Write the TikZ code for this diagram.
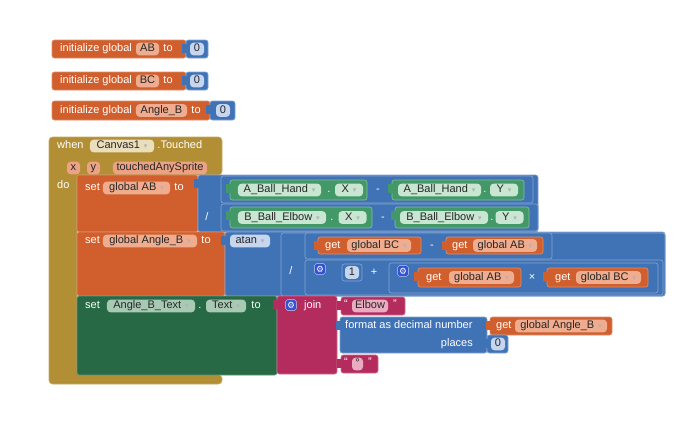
\documentclass[tikz,border=0pt]{standalone}
\usepackage{fontspec}
\setmainfont{Liberation Sans}
\newfontfamily\symfont{DejaVu Sans}
\usetikzlibrary{positioning}

\definecolor{varor}{RGB}{208,95,45}
\definecolor{pillor}{RGB}{240,172,142}
\definecolor{mathbl}{RGB}{64,114,182}
\definecolor{pillbl}{RGB}{198,214,238}
\definecolor{compgr}{RGB}{66,152,103}
\definecolor{pillgr}{RGB}{200,230,210}
\definecolor{setgr}{RGB}{38,105,68}
\definecolor{pilldg}{RGB}{168,202,180}
\definecolor{evol}{RGB}{178,142,52}
\definecolor{pillev}{RGB}{234,222,188}
\definecolor{pillpar}{RGB}{236,162,132}
\definecolor{txtmg}{RGB}{180,44,94}
\definecolor{pillmg}{RGB}{234,172,192}
\definecolor{gearbl}{RGB}{52,82,212}

\newcommand{\blkfont}{\fontsize{9.4}{11}\selectfont}
\newcommand{\dd}{\hspace{0.35em}{\symfont\fontsize{6}{6}\selectfont\textcolor{gray!60}{▾}}}
\newcommand{\vtab}[3]{\fill[#3] (#1-4,#2+4) rectangle (#1+0.6,#2+13);}

\begin{document}
\begin{tikzpicture}[x=0.03cm, y=-0.03cm,
    lbl/.style={text=white, font=\blkfont, inner sep=0pt, text height=6.8pt, text depth=1.8pt},
    pill/.style={rounded corners=3pt, inner sep=0pt, minimum height=0.38cm, text=black!85, font=\blkfont, text height=6.8pt, text depth=1.8pt},
    orpill/.style={pill, fill=pillor},
    blpill/.style={pill, fill=pillbl},
    grpill/.style={pill, fill=pillgr},
    dgpill/.style={pill, fill=pilldg},
    evpill/.style={pill, fill=pillev},
    parpill/.style={pill, fill=pillpar},
    mgpill/.style={pill, fill=pillmg},
    orblk/.style={fill=varor, draw=varor!70!white, line width=0.5pt, rounded corners=2pt},
    blblk/.style={fill=mathbl, draw=mathbl!65!white, line width=0.5pt, rounded corners=2pt},
    grblk/.style={fill=compgr, draw=compgr!65!white, line width=0.5pt, rounded corners=2pt},
    dgblk/.style={fill=setgr, draw=setgr!70!white, line width=0.5pt, rounded corners=2pt},
    mgblk/.style={fill=txtmg, draw=txtmg!70!white, line width=0.5pt, rounded corners=2pt},
    evblk/.style={fill=evol, draw=evol!75!white, line width=0.5pt, rounded corners=3pt},
    gear/.style={fill=gearbl, draw=white!70!gearbl, rounded corners=1.5pt, minimum size=0.32cm, inner sep=0pt, text=white, font=\symfont\fontsize{7.5}{7.5}\selectfont}
]
\fill[white] (0,0) rectangle (690,442);
\useasboundingbox (0,0) rectangle (690,442);

% Global variables
\draw[orblk] (52,40) rectangle (186,58);
\node[lbl, anchor=west] (init1) at (60,49) {initialize global};
\node[orpill, minimum width=0.69cm] (vab) at (147.5,49) {AB};
\node[lbl, right=0.12cm of vab] (to1) {to};
\draw[blblk] (186,40) rectangle (208,58); \vtab{186}{40}{mathbl}
\node[blpill, minimum width=0.42cm] (zero1) at (197,49) {0};

\draw[orblk] (52,72) rectangle (186,90);
\node[lbl, anchor=west] (init2) at (60,81) {initialize global};
\node[orpill, minimum width=0.69cm] (vbc) at (147.5,81) {BC};
\node[lbl, right=0.12cm of vbc] (to2) {to};
\draw[blblk] (186,72) rectangle (208,90); \vtab{186}{72}{mathbl}
\node[blpill, minimum width=0.42cm] (zero2) at (197,81) {0};

\draw[orblk] (52,101) rectangle (210,120);
\node[lbl, anchor=west] (init3) at (60,110.5) {initialize global};
\node[orpill, minimum width=1.53cm] (vang) at (161.5,110.5) {Angle\_B};
\node[lbl, right=0.12cm of vang] (to3) {to};
\draw[blblk] (210,101) rectangle (235,120); \vtab{210}{101}{mathbl}
\node[blpill, minimum width=0.42cm] (zero3) at (223,110.5) {0};

% Event handler
\draw[evblk] (49,137) -- (222,137) -- (222,175) -- (77,175) -- (77,375)
  -- (222,375) -- (222,384) -- (49,384) -- cycle;
\node[lbl, anchor=west] (when) at (57,146) {when};
\node[evpill, minimum width=1.92cm] (canvas) at (122,146) {Canvas1\dd};
\node[lbl, right=0.09cm of canvas] (touched) {.Touched};
\node[parpill, minimum width=0.39cm] (px) at (73.5,168) {x};
\node[parpill, minimum width=0.39cm] (py) at (93.5,168) {y};
\node[parpill, minimum width=2.82cm] (pany) at (160,168) {touchedAnySprite};
\node[lbl, anchor=west] (do) at (57,186) {do};

% set global AB
\draw[orblk] (77,175) rectangle (198,232);
\node[lbl, anchor=west] (set1) at (85,188) {set};
\node[orpill, minimum width=2.01cm] (gab1) at (136.5,188) {global AB\dd};
\node[lbl, right=0.12cm of gab1] (to4) {to};
\draw[blblk] (198,175) rectangle (538,232); \vtab{198}{175}{mathbl}
\node[lbl] (div1) at (207,217.5) {/};
\draw[blblk] (221,176) rectangle (533,203);
\draw[blblk] (221,204) rectangle (538,231);

\draw[grblk] (230,180) rectangle (367,200); \vtab{230}{180}{compgr}
\node[grpill, minimum width=2.49cm] (ah1) at (279.5,190) {A\_Ball\_Hand\dd};
\node[lbl] (dot1) at (329,190) {.};
\node[grpill, minimum width=0.84cm] (ax1) at (349,190) {X\dd};
\node[lbl] (min1) at (378,190) {-};
\draw[grblk] (392,180) rectangle (524,200); \vtab{392}{180}{compgr}
\node[grpill, minimum width=2.49cm] (ah2) at (439.5,190) {A\_Ball\_Hand\dd};
\node[lbl] (dot2) at (485,190) {.};
\node[grpill, minimum width=0.84cm] (ay1) at (504,190) {Y\dd};

\draw[grblk] (230,207) rectangle (372,228); \vtab{230}{207}{compgr}
\node[grpill, minimum width=2.64cm] (be1) at (282,217.5) {B\_Ball\_Elbow\dd};
\node[lbl] (dot3) at (332,217.5) {.};
\node[grpill, minimum width=0.84cm] (bx1) at (352.5,217.5) {X\dd};
\node[lbl] (min2) at (383,217.5) {-};
\draw[grblk] (395,207) rectangle (529,228); \vtab{395}{207}{compgr}
\node[grpill, minimum width=2.64cm] (be2) at (444,217.5) {B\_Ball\_Elbow\dd};
\node[lbl] (dot4) at (492,217.5) {.};
\node[grpill, minimum width=0.84cm] (by1) at (509.5,217.5) {Y\dd};

% set global Angle_B
\draw[orblk] (77,232) rectangle (225,296);
\node[lbl, anchor=west] (set2) at (85,241) {set};
\node[orpill, minimum width=2.82cm] (gang1) at (150,241) {global Angle\_B\dd};
\node[lbl, right=0.12cm of gang1] (to5) {to};
\draw[blblk] (225,232) rectangle (665,296); \vtab{225}{232}{mathbl}
\node[blpill, minimum width=1.2cm] (atan) at (250,241) {atan\dd};
\draw[blblk] (281,233) rectangle (665,296);
\node[lbl] (div2) at (291,272) {/};

\draw[blblk] (305,233) rectangle (552,259);
\draw[orblk] (318,237) rectangle (421,254); \vtab{318}{237}{varor}
\node[lbl, anchor=west] (get1) at (325,245.5) {get};
\node[orpill, minimum width=1.92cm] (gbc1) at (379,245.5) {global BC\dd};
\node[lbl] (min3) at (432,245.5) {-};
\draw[orblk] (446,237) rectangle (543,254); \vtab{446}{237}{varor}
\node[lbl, anchor=west] (get2) at (452,245.5) {get};
\node[orpill, minimum width=1.92cm] (gab2) at (505,245.5) {global AB\dd};

\draw[blblk] (305,260) rectangle (663,295);
\node[gear] (gear1) at (320,269) {⚙};
\draw[blblk] (342,264) rectangle (362,281);
\node[blpill, minimum width=0.42cm] (one) at (352,272.5) {1};
\node[lbl] (plus) at (374,272.5) {+};
\draw[blblk] (389,263) rectangle (658,293);
\node[gear] (gear2) at (403,271) {⚙};
\draw[orblk] (418,268) rectangle (521,287); \vtab{418}{268}{varor}
\node[lbl, anchor=west] (get3) at (426,277.5) {get};
\node[orpill, minimum width=1.95cm] (gab3) at (481.5,277.5) {global AB\dd};
\node[lbl] (times) at (532,277.5) {×};
\draw[orblk] (547,268) rectangle (648,287); \vtab{547}{268}{varor}
\node[lbl, anchor=west] (get4) at (555,277.5) {get};
\node[orpill, minimum width=1.95cm] (gbc2) at (608.5,277.5) {global BC\dd};

% set Angle_B_Text.Text
\draw[dgblk] (77,296) rectangle (277,375);
\node[lbl, anchor=west] (set3) at (85,306) {set};
\node[dgpill, minimum width=2.64cm] (abt) at (151,306) {Angle\_B\_Text\dd};
\node[lbl] (dot5) at (200,306) {.};
\node[dgpill, minimum width=1.2cm] (txt) at (226,306) {Text\dd};
\node[lbl, right=0.15cm of txt] (to6) {to};

\draw[mgblk] (277,296) rectangle (337,374); \vtab{277}{296}{txtmg}
\node[gear] (gear3) at (291,305) {⚙};
\node[lbl, anchor=west] (join) at (304,306) {join};

\draw[mgblk] (341,297) rectangle (405,315); \vtab{341}{297}{txtmg}
\node[lbl] (q1) at (346,305) {“};
\node[mgpill, minimum width=1.08cm] (elbow) at (370,306) {Elbow};
\node[lbl] (q2) at (395,305) {”};

\draw[blblk] (340,317) rectangle (487,353); \vtab{340}{317}{mathbl}
\node[lbl, anchor=west] (fmt) at (345,326) {format as decimal number};
\node[lbl, anchor=east] (places) at (473,344) {places};
\draw[orblk] (490,317) rectangle (612,335); \vtab{490}{317}{varor}
\node[lbl, anchor=west] (get5) at (496,326) {get};
\node[orpill, minimum width=2.76cm] (gang2) at (561,326) {global Angle\_B\dd};
\draw[blblk] (487,335) rectangle (508,353); \vtab{487}{335}{mathbl}
\node[blpill, minimum width=0.42cm] (zero4) at (498,344) {0};

\draw[mgblk] (341,355) rectangle (378,373); \vtab{341}{355}{txtmg}
\node[lbl] (q3) at (346,363) {“};
\node[mgpill, minimum width=0.33cm] (deg) at (357.5,364) {°};
\node[lbl] (q4) at (370,363) {”};

\end{tikzpicture}
\end{document}
